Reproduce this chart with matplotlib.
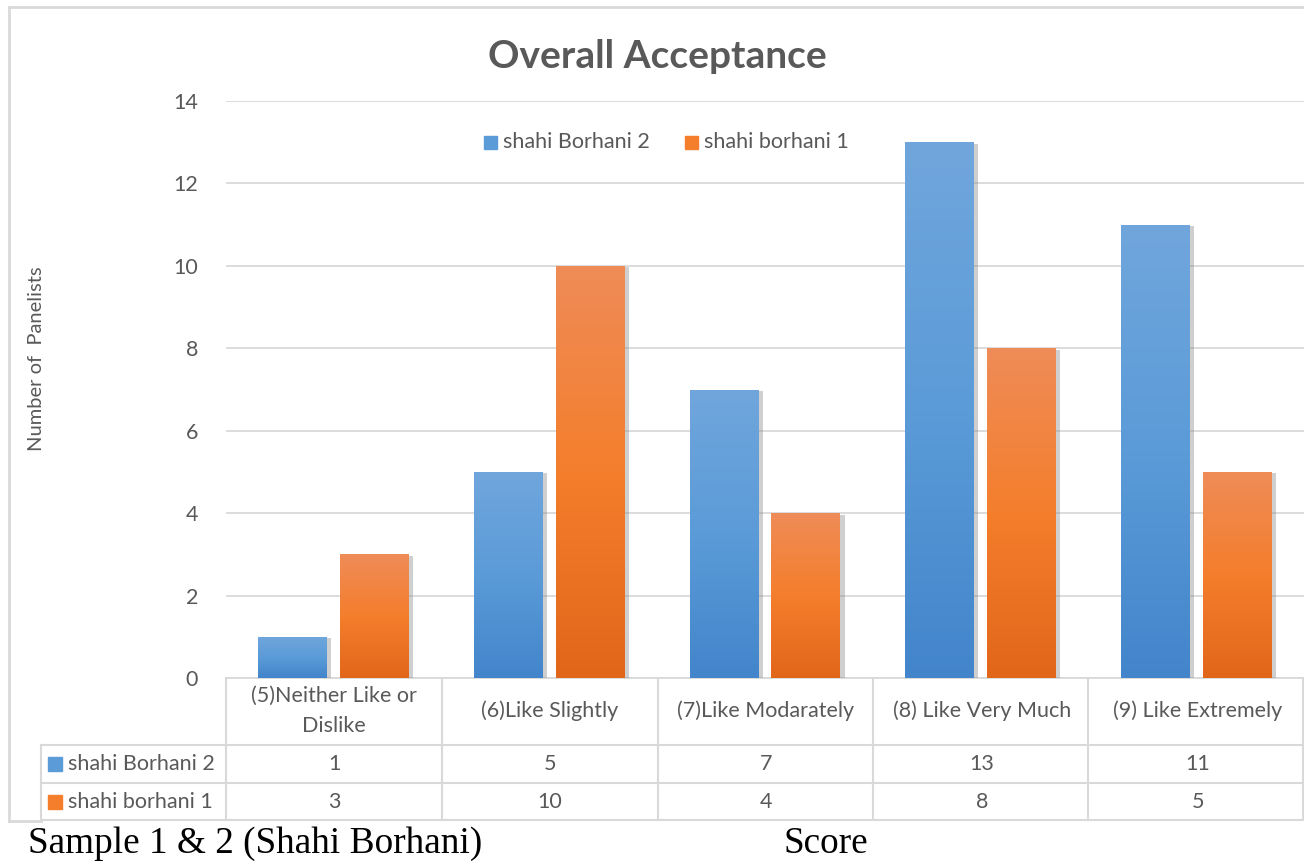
import numpy as np
import matplotlib
matplotlib.use("Agg")
import matplotlib.pyplot as plt
import matplotlib.patheffects as pe
from matplotlib.colors import LinearSegmentedColormap

categories = ["(5)Neither Like or\nDislike", "(6)Like Slightly", "(7)Like Modarately",
              "(8) Like Very Much", "(9) Like Extremely"]
series_names = ["shahi Borhani 2", "shahi borhani 1"]
borhani2 = [1, 5, 7, 13, 11]
borhani1 = [3, 10, 4, 8, 5]
yticks = [0, 2, 4, 6, 8, 10, 12, 14]

plt.rcParams['font.family'] = ['Lato', 'DejaVu Sans']
W, H = 1304, 861
fig = plt.figure(figsize=(W / 100, H / 100), dpi=100)

def fx(px):
    return px / W

def fy(py):
    return 1 - py / H

# plot area
ax = fig.add_axes([fx(226), fy(678), fx(1304) - fx(226), fy(101) - fy(678)])
grid_c = "#D9D9D9"
txt_c = "#595959"
fs = 15.5

x = np.arange(len(categories))
w = 0.32
off = 0.19
cmaps = [LinearSegmentedColormap.from_list("b", ["#4385CB", "#5B9BD8", "#70A6DC"]),
         LinearSegmentedColormap.from_list("o", ["#E2661A", "#F47E2C", "#EF8C58"])]
grad = np.linspace(0, 1, 256).reshape(-1, 1)

for k, (vals, cm) in enumerate(zip([borhani2, borhani1], cmaps)):
    pos = x - off if k == 0 else x + off
    bars = ax.bar(pos, vals, w, color=cm(0.5), zorder=3,
                  path_effects=[pe.SimplePatchShadow(offset=(3, -1), shadow_rgbFace="#888888", alpha=0.4),
                                pe.Normal()])
    for b in bars:
        im = ax.imshow(grad, extent=[b.get_x(), b.get_x() + b.get_width(), 0, b.get_height()],
                       origin="lower", aspect="auto", cmap=cm, zorder=4)
        im.set_clip_path(b)

ax.set_xlim(-0.5, len(categories) - 0.5)
ax.set_ylim(0, 14)
ax.set_yticks(yticks)
ax.yaxis.grid(True, color=grid_c, lw=1.3, zorder=0)
ax.tick_params(axis="y", length=0, pad=20, labelsize=fs, labelcolor=txt_c)
ax.set_xticks([])
for s in ["top", "right", "left"]:
    ax.spines[s].set_visible(False)
ax.spines["bottom"].set_color(grid_c)
ax.spines["bottom"].set_linewidth(1.3)
fig.text(fx(37), fy(359), "Number of  Panelists", rotation=90, ha="center", va="center",
         fontsize=14.5, color=txt_c)

# data table under the axis
tl = dict(color=grid_c, lw=1.5, transform=fig.transFigure, clip_on=False)
for px in [226, 442, 658, 873, 1088, 1303]:
    fig.add_artist(plt.Line2D([fx(px), fx(px)], [fy(678), fy(820)], **tl))
fig.add_artist(plt.Line2D([fx(41), fx(41)], [fy(745), fy(820)], **tl))
for py in [745, 783, 820]:
    fig.add_artist(plt.Line2D([fx(41), fx(1304)], [fy(py), fy(py)], **tl))

centers = [(226 + 216 * i + 108) for i in range(len(categories))]
for cx, lab in zip(centers, categories):
    fig.text(fx(cx), fy(711), lab, ha="center", va="center", fontsize=fs,
             color=txt_c, linespacing=1.65)
for r, (name, vals) in enumerate(zip(series_names, [borhani2, borhani1])):
    ry = 764 + r * 37.5
    fig.add_artist(plt.Rectangle((fx(48), fy(ry + 7)), fx(14), fy(ry - 7) - fy(ry + 7),
                                 color=cmaps[r](0.5), transform=fig.transFigure))
    fig.text(fx(68), fy(ry), name, ha="left", va="center", fontsize=fs, color=txt_c)
    for cx, v in zip(centers, vals):
        fig.text(fx(cx), fy(ry), str(v), ha="center", va="center", fontsize=fs, color=txt_c)

# legend
for name, cm, lx in zip(series_names, cmaps, [484, 685]):
    fig.add_artist(plt.Rectangle((fx(lx), fy(149)), fx(13), fy(136) - fy(149),
                                 color=cm(0.5), transform=fig.transFigure))
    fig.text(fx(lx + 19), fy(142), name, ha="left", va="center", fontsize=fs, color=txt_c)

# title
fig.text(fx(657), fy(56), "Overall Acceptance", ha="center", va="center",
         fontsize=28, fontweight="bold", color=txt_c)

# outer chart border
bl = dict(color=grid_c, lw=2, transform=fig.transFigure)
fig.add_artist(plt.Line2D([fx(9), fx(9)], [fy(7), fy(821)], **bl))
fig.add_artist(plt.Line2D([fx(9), fx(1304)], [fy(7), fy(7)], **bl))
fig.add_artist(plt.Line2D([fx(9), fx(41)], [fy(821), fy(821)], **bl))

# caption below the chart
fig.text(fx(28), fy(844), "Sample 1 & 2 (Shahi Borhani)", ha="left", va="center",
         fontsize=26.8, family="Liberation Serif", color="black")
fig.text(fx(783), fy(844), "Score", ha="left", va="center",
         fontsize=26.8, family="Liberation Serif", color="black")

fig.savefig("out.png", dpi=100)
